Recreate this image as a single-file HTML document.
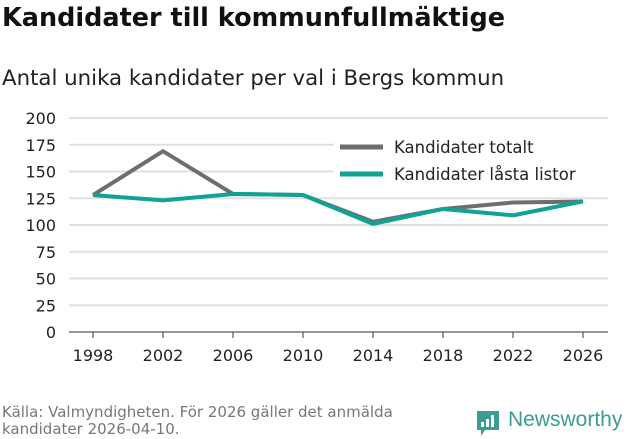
<!DOCTYPE html>
<html><head><meta charset="utf-8"><style>
body{margin:0;background:#fff;font-family:"DejaVu Sans","Liberation Sans",sans-serif;}
#w{position:relative;width:631px;height:439px;overflow:hidden}
</style></head><body><div id="w">
<div style="position:absolute;left:2px;top:3px;font-size:25.5px;font-weight:bold;color:#111">Kandidater till kommunfullmäktige</div>
<div style="position:absolute;left:2px;top:66px;font-size:21.3px;color:#222">Antal unika kandidater per val i Bergs kommun</div>
<svg id="c" width="631" height="439" style="position:absolute;left:0;top:0"></svg>
<div style="position:absolute;left:2px;top:404px;font-size:15px;line-height:17px;color:#777">Källa: Valmyndigheten. För 2026 gäller det anmälda<br>kandidater 2026-04-10.</div>
<div style="position:absolute;left:476px;top:409px;width:155px;height:30px">
<svg width="24" height="29" style="position:absolute;left:0;top:1px"><path d="M1 1h22v19H9l-4 6v-6H1z" fill="#3a9c92"/><rect x="5" y="12" width="3" height="5" fill="#fff"/><rect x="10" y="9" width="3" height="8" fill="#fff"/><rect x="15" y="5" width="3" height="12" fill="#fff"/></svg>
<span style="position:absolute;left:32px;top:-1px;font-size:21px;color:#3a9c92;font-family:'Liberation Sans',sans-serif">Newsworthy</span></div>
</div>
<script>
const years=[1998,2002,2006,2010,2014,2018,2022,2026];
const totalt=[128,169,129,128,103,115,121,122];
const lasta=[128,123,129,128,101,115,109,122];
const yTicks=[0,25,50,75,100,125,150,175,200];
const NS="http://www.w3.org/2000/svg",svg=document.getElementById('c');
const x=i=>93+i*(583-93)/(years.length-1);
const y=v=>332-v*(332-118)/200;
function el(t,a){const e=document.createElementNS(NS,t);for(const k in a)e.setAttribute(k,a[k]);svg.appendChild(e);return e;}
yTicks.forEach(v=>{
 const l=el('line',{x1:69,x2:608,y1:y(v),y2:y(v),stroke:v===0?'#333':'#e0e0e0','stroke-width':v===0?1:2});
 
 
 const t=el('text',{x:56,y:y(v)+6,'text-anchor':'end','font-size':16,fill:'#222'});t.textContent=v;
 
 
});
years.forEach((yr,i)=>{
 const tk=el('line',{x1:x(i),x2:x(i),y1:332,y2:338,stroke:'#333'});
 
 
 const t=el('text',{x:x(i),y:361,'text-anchor':'middle','font-size':16,fill:'#222'});t.textContent=yr;
 
 
});
const lb=el('rect',{x:334,y:132,width:276,height:60,fill:'#fff'});


function series(vals,col,name){
 const p=el('polyline',{points:vals.map((v,i)=>x(i)+','+y(v)).join(' '),fill:'none',stroke:col,'stroke-width':4,'stroke-linejoin':'round'});
 
 
}
series(totalt,'#6e6d74','line-kandidater-totalt');
series(lasta,'#0ea394','line-kandidater-lasta-listor');
[['#6e6d74','Kandidater totalt',147],['#0ea394','Kandidater låsta listor',174]].forEach((d,i)=>{
 const l=el('line',{x1:340,x2:383,y1:d[2],y2:d[2],stroke:d[0],'stroke-width':5});
 
 
 const t=el('text',{x:394,y:d[2]+6,'font-size':16.5,fill:'#222'});t.textContent=d[1];
 
 
});
</script></body></html>
